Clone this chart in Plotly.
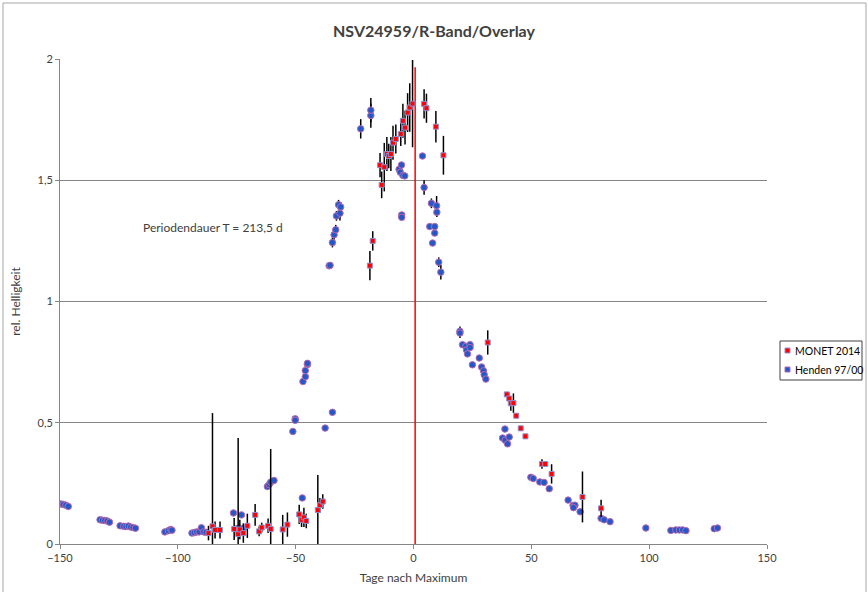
import plotly.graph_objects as go

# ---- Data ----
henden_x = [-149.5, -148.5, -147.5, -146.5,
            -133, -132, -131, -130, -129,
            -124.5, -123, -122, -121, -120, -119, -118,
            -105.5, -104, -103, -102.5,
            -94, -93, -92, -91, -90, -89, -88,
            -76.4, -74.5, -73, -72.3,
            -62, -61.3, -60.6, -59.2,
            -51.2, -50.2, -50.2, -47.2,
            -46.9, -45.9, -45.9, -45, -45,
            -37.5, -34.4,
            -35.8, -35.4, -34.4, -33.7, -33, -32.7, -31.2, -31.8, -30.9,
            -22.4, -18.1, -18.1,
            -6.1, -5.1, -5.6, -4.5, -3.7, -5, -5,
            3.8, 4.5, 7.6, 9.8, 9.9, 6.9, 9, 9, 8.1, 10.7, 11.6,
            19.7, 19.7, 20.8, 22.2, 22.5, 24, 24, 22.9, 25, 27.9, 28.9, 29.7, 30, 30.7,
            38.8, 37.8, 38.9, 39.9, 40.6,
            49.8, 50.8, 53.6, 55.4, 57.6,
            65.6, 67.7, 68.5, 67.9, 70.7,
            79.6, 80.9, 83.4,
            98.6,
            109.2, 111.3, 112.8, 114.2, 115.6,
            127.6, 129]
henden_y = [0.165, 0.163, 0.16, 0.155,
            0.1, 0.098, 0.097, 0.095, 0.09,
            0.075, 0.073, 0.072, 0.074, 0.07, 0.068, 0.065,
            0.05, 0.055, 0.06, 0.057,
            0.045, 0.047, 0.05, 0.05, 0.067, 0.05, 0.048,
            0.128, 0.065, 0.12, 0.065,
            0.237, 0.245, 0.255, 0.262,
            0.464, 0.516, 0.51, 0.19,
            0.67, 0.69, 0.715, 0.74, 0.745,
            0.478, 0.543,
            1.147, 1.149, 1.243, 1.275, 1.296, 1.353, 1.364, 1.399, 1.39,
            1.712, 1.767, 1.789,
            1.545, 1.563, 1.533, 1.52, 1.518, 1.357, 1.347,
            1.6, 1.47, 1.405, 1.395, 1.368, 1.309, 1.309, 1.282, 1.241, 1.162, 1.121,
            0.877, 0.87, 0.822, 0.815, 0.8, 0.822, 0.81, 0.784, 0.739, 0.767, 0.73, 0.714, 0.698, 0.68,
            0.474, 0.437, 0.428, 0.413, 0.441,
            0.275, 0.27, 0.256, 0.254, 0.228,
            0.181, 0.159, 0.16, 0.15, 0.133,
            0.106, 0.1, 0.092,
            0.066,
            0.056, 0.058, 0.058, 0.058, 0.055,
            0.063, 0.066]
henden_err = [0, 0, 0, 0,
              0, 0, 0, 0, 0,
              0, 0, 0, 0, 0, 0, 0,
              0, 0, 0, 0,
              0, 0, 0, 0, 0, 0, 0,
              0, 0, 0, 0,
              0, 0, 0, 0,
              0, 0, 0, 0,
              0, 0, 0, 0, 0,
              0, 0,
              0, 0, 0.02, 0.02, 0.02, 0.02, 0.03, 0.02, 0.02,
              0.04, 0.05, 0.05,
              0, 0, 0, 0, 0, 0.01, 0.01,
              0.01, 0.03, 0.02, 0.04, 0.02, 0, 0, 0.01, 0, 0.02, 0.03,
              0.02, 0.02, 0, 0, 0, 0, 0, 0, 0.01, 0, 0.01, 0, 0, 0,
              0, 0, 0, 0, 0,
              0, 0, 0, 0, 0,
              0, 0, 0, 0, 0,
              0, 0, 0,
              0,
              0, 0, 0, 0, 0,
              0, 0]

monet_x = [-87.0, -85.3, -84.2, -82.1, -76.1, -74.4, -73.7, -72.2, -70.5, -67.2,
           -65.5, -64.4, -61.7, -60.6, -55.5, -53.5, -48.5, -47.5, -46.5, -45.5,
           -40.6, -39.7, -38.5,
           -18.5, -17.3, -13.5, -14.2, -12.4, -11.3, -10.5, -9.6, -8.7, -7.5,
           -5.4, -4.5, -3.6, -2.5, -1.6, -0.4, 4.5, 5.5, 9.5, 12.7,
           31.5, 39.6, 40.6, 41.3, 42.4, 43.6, 45.5, 47.5, 54.5, 55.9, 58.6,
           71.7, 79.6]
monet_y = [0.045, 0.073, 0.058, 0.058, 0.062, 0.041, 0.06, 0.045, 0.075, 0.12,
           0.052, 0.068, 0.075, 0.062, 0.06, 0.08, 0.122, 0.1, 0.11, 0.095,
           0.14, 0.16, 0.175,
           1.148, 1.25, 1.481, 1.562, 1.554, 1.608, 1.6, 1.608, 1.655, 1.67,
           1.691, 1.745, 1.717, 1.779, 1.8, 1.816, 1.815, 1.797, 1.721, 1.603,
           0.831, 0.617, 0.6, 0.58, 0.581, 0.529, 0.477, 0.444, 0.33, 0.33, 0.289,
           0.194, 0.147]
monet_err = [0.03, 0.467, 0.035, 0.035, 0.045, 0.396, 0.04, 0.04, 0.05, 0.045,
             0.02, 0.02, 0.03, 0.33, 0.06, 0.05, 0.04, 0.03, 0.04, 0.03,
             0.145, 0.03, 0.03,
             0.06, 0.04, 0.055, 0.05, 0.1, 0.07, 0.05, 0.07, 0.07, 0.06,
             0.05, 0.07, 0.07, 0.08, 0.1, 0.18, 0.06, 0.06, 0.065, 0.08,
             0.05, 0.01, 0.02, 0.03, 0.04, 0.01, 0.01, 0.01, 0.02, 0.01, 0.04,
             0.105, 0.035]

max_line_x = [0.7, 0.7]
max_line_y = [0, 1.966]

x_ticks = [-150, -100, -50, 0, 50, 100, 150]
y_ticks = [0, 0.5, 1, 1.5, 2]
y_tick_text = ["0", "0,5", "1", "1,5", "2"]

series_names = ["MONET 2014", "Henden 97/00"]

FONT = "Lato"
W, H = 868, 592
ML, MR, MT, MB = 60, 101, 59, 48
PW, PH = W - ML - MR, H - MT - MB


def px_x(px):
    return (px - ML) / PW


def px_y(py):
    return (H - MB - py) / PH


fig = go.Figure()

fig.add_trace(go.Scatter(
    x=max_line_x, y=max_line_y, mode="lines",
    line=dict(color="#FF0000", width=1.5), showlegend=False, hoverinfo="skip"))

HEN_FILL, HEN_LINE = "#2458C8", "#B86AB0"
MON_FILL, MON_LINE = "#FF0000", "#9090D0"

fig.add_trace(go.Scatter(
    x=henden_x, y=henden_y, mode="markers", name=series_names[1], showlegend=False,
    marker=dict(symbol="circle", size=6.5, color=HEN_FILL,
                line=dict(color=HEN_LINE, width=1)),
    error_y=dict(type="data", array=henden_err, visible=True,
                 color="#000000", thickness=1.5, width=0)))

fig.add_trace(go.Scatter(
    x=monet_x, y=monet_y, mode="markers", name=series_names[0], showlegend=False,
    marker=dict(symbol="square", size=5, color=MON_FILL,
                line=dict(color=MON_LINE, width=1)),
    error_y=dict(type="data", array=monet_err, visible=True,
                 color="#000000", thickness=1.5, width=0)))

fig.add_annotation(x=-115.7, y=1.304, text="Periodendauer T = 213,5 d",
                   showarrow=False, xanchor="left", yanchor="middle",
                   font=dict(family=FONT, size=12, color="#404040"))

# outer chart border
for x0, y0, x1, y1 in [(px_x(3), px_y(600), px_x(3), px_y(3)), (px_x(3), px_y(3), px_x(866), px_y(3)),
                       (px_x(866), px_y(600), px_x(866), px_y(3))]:
    fig.add_shape(type="line", xref="paper", yref="paper", x0=x0, y0=y0, x1=x1, y1=y1,
                  line=dict(color="#A6A6A6", width=1))

# legend (compact, drawn manually like the original)
fig.add_shape(type="rect", xref="paper", yref="paper",
              x0=px_x(780), x1=px_x(862), y0=px_y(380), y1=px_y(341),
              line=dict(color="#404040", width=1), fillcolor="white")
for i, (name, fill, edge) in enumerate([(series_names[0], MON_FILL, MON_LINE),
                                        (series_names[1], HEN_FILL, HEN_LINE)]):
    cy = 350.5 + i * 19
    fig.add_shape(type="rect", xref="paper", yref="paper",
                  x0=px_x(785), x1=px_x(790), y0=px_y(cy + 2.5), y1=px_y(cy - 2.5),
                  line=dict(color=edge, width=1), fillcolor=fill)
    fig.add_annotation(xref="paper", yref="paper", x=px_x(793), y=px_y(cy), text=name,
                       showarrow=False, xanchor="left", yanchor="middle",
                       font=dict(family=FONT, size=10.5, color="#000000"))

fig.update_layout(
    width=W, height=H,
    margin=dict(l=ML, r=MR, t=MT, b=MB, autoexpand=False),
    paper_bgcolor="white", plot_bgcolor="white",
    title=dict(text="<b>NSV24959/R-Band/Overlay</b>", x=0.5, xanchor="center",
               yref="container", y=0.957, yanchor="top",
               font=dict(family=FONT, size=16, color="#404040")),
    font=dict(family=FONT, size=11, color="#404040"),
    showlegend=False,
)

fig.update_xaxes(range=[-150, 150], tickvals=x_ticks, ticks="outside", ticklen=4,
                 tickcolor="#868686", showline=True, linecolor="#868686", linewidth=1,
                 showgrid=False, zeroline=False,
                 title=dict(text="Tage nach Maximum", font=dict(family=FONT, size=12, color="#404040"),
                            standoff=10))
fig.update_yaxes(range=[0, 2], tickvals=y_ticks, ticktext=y_tick_text, ticks="outside", ticklen=4,
                 tickcolor="#868686", showline=True, linecolor="#868686", linewidth=1,
                 showgrid=True, gridcolor="#868686", gridwidth=1, zeroline=False,
                 title=dict(text="rel. Helligkeit", font=dict(family=FONT, size=12, color="#404040"),
                            standoff=14))

fig.write_html("out.html", config={"displayModeBar": False},
               post_script="document.body.style.margin='0px';")
